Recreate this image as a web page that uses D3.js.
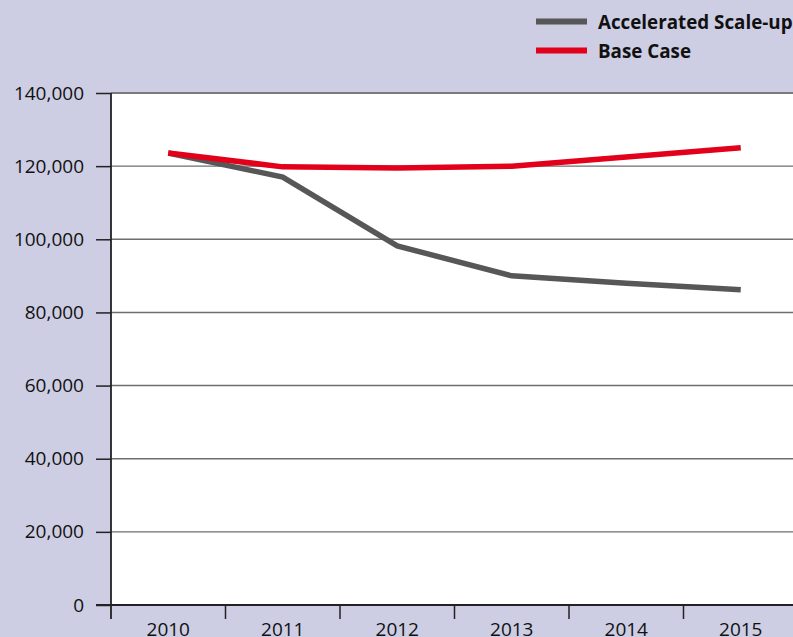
<!DOCTYPE html>
<html>
<head>
<meta charset="utf-8">
<script src="https://cdn.jsdelivr.net/npm/d3@7"></script>
<style>
  body { margin: 0; background: #cdcde3; }
  svg { display: block; }
</style>
</head>
<body>
<div id="chart"></div>
<script>
const years = ["2010", "2011", "2012", "2013", "2014", "2015"];
const accelerated = [123600, 117000, 98200, 90000, 88000, 86200];
const baseCase = [123600, 119800, 119500, 120000, 122500, 125000];
const yTicks = [0, 20000, 40000, 60000, 80000, 100000, 120000, 140000];

const width = 793, height = 637;
const margin = {top: 93, left: 111, right: -5, bottom: 32};
const font = '"Open Sans", "Noto Sans", sans-serif';

let svg = d3.select('#chart').append('svg').attr('width', width).attr('height', height)
  .attr('font-family', font);
svg.append('rect').attr('width', width).attr('height', height).attr('fill', '#cdcde3');

var x = d3.scaleBand().domain(years).range([margin.left, width - margin.right]);
var y = d3.scaleLinear().domain([0, 140000]).range([height - margin.bottom, margin.top]);

// white plot area
svg.append('rect')
  .attr('x', margin.left).attr('y', margin.top)
  .attr('width', width - margin.left).attr('height', y(0) - margin.top)
  .attr('fill', 'white');

// gridlines
svg.append('g').selectAll('line').data(yTicks.slice(1)).enter().append('line')
  .attr('x1', margin.left).attr('x2', width)
  .attr('y1', d => y(d)).attr('y2', d => y(d))
  .attr('stroke', d => d === 140000 ? '#7a7a7a' : '#6e6e6e')
  .attr('stroke-width', d => d === 140000 ? 2 : 1.4);

// y axis
var yAxis = d3.axisLeft(y).tickValues(yTicks).tickSize(15).tickPadding(12)
  .tickFormat(d3.format(','));
let gy = svg.append('g').attr('transform', `translate(${margin.left},0)`).call(yAxis);
gy.attr('font-family', font).attr('font-size', 19);
gy.select('.domain').remove();
gy.selectAll('.tick line').attr('stroke', '#222').attr('stroke-width', 1.5);
gy.selectAll('.tick text').attr('fill', '#111');

// y axis line (extends below zero)
svg.append('line')
  .attr('x1', margin.left).attr('x2', margin.left)
  .attr('y1', margin.top).attr('y2', y(0) + 14)
  .attr('stroke', '#222').attr('stroke-width', 1.8);

// x axis
svg.append('line')
  .attr('x1', margin.left - 15).attr('x2', width)
  .attr('y1', y(0)).attr('y2', y(0))
  .attr('stroke', '#222').attr('stroke-width', 1.8);
svg.append('g').selectAll('line').data(years.slice(1)).enter().append('line')
  .attr('x1', d => x(d)).attr('x2', d => x(d))
  .attr('y1', y(0)).attr('y2', y(0) + 14)
  .attr('stroke', '#222').attr('stroke-width', 1.5);
svg.append('g').selectAll('text').data(years).enter().append('text')
  .attr('x', d => x(d) + x.bandwidth() / 2)
  .attr('y', height - 1.5)
  .attr('text-anchor', 'middle')
  .attr('font-size', 19).attr('fill', '#111')
  .text(d => d);

// lines
var line = d3.line()
  .x((d, i) => x(years[i]) + x.bandwidth() / 2)
  .y(d => y(d));

svg.append('path').datum(accelerated)
  .attr('d', line).attr('fill', 'none')
  .attr('stroke', '#575757').attr('stroke-width', 5.5);
svg.append('path').datum(baseCase)
  .attr('d', line).attr('fill', 'none')
  .attr('stroke', '#e2001a').attr('stroke-width', 5.5);

// legend
const legend = [
  {name: 'Accelerated Scale-up', color: '#575757'},
  {name: 'Base Case', color: '#e2001a'}
];
let lg = svg.append('g').selectAll('g').data(legend).enter().append('g')
  .attr('transform', (d, i) => `translate(536, ${21.5 + i * 29})`);
lg.append('line').attr('x1', 0).attr('x2', 51)
  .attr('stroke', d => d.color).attr('stroke-width', 6);
lg.append('text').attr('x', 62).attr('y', 7)
  .attr('font-size', 18.8).attr('font-weight', 'bold').attr('fill', '#111')
  .attr('textLength', null)
  .text(d => d.name);
</script>
</body>
</html>
